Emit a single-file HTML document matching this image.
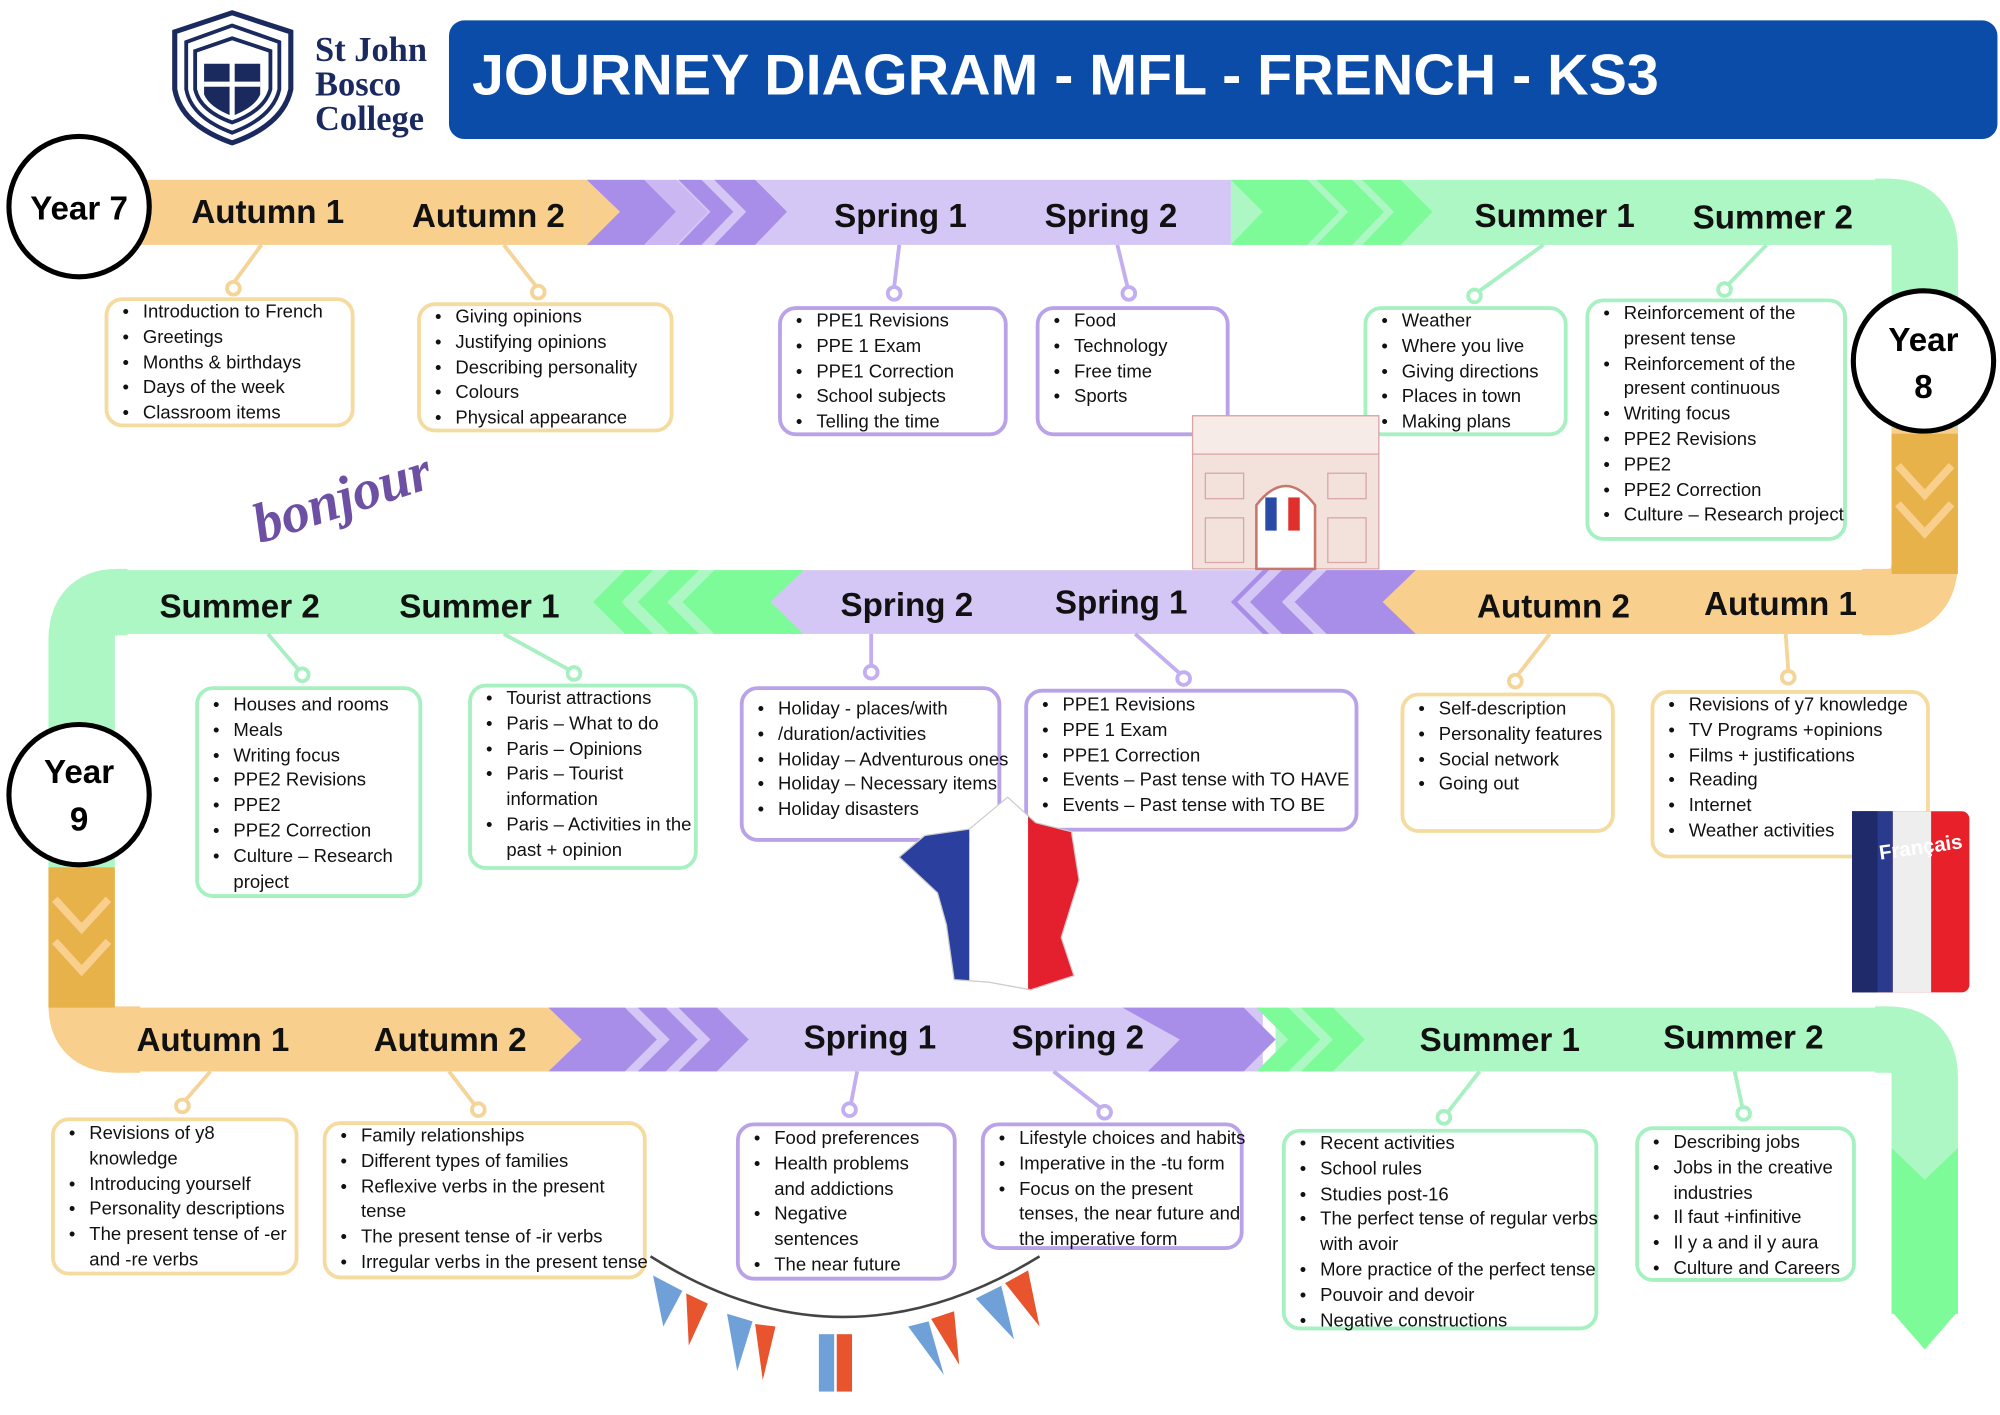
<!DOCTYPE html>
<html><head><meta charset="utf-8">
<style>
html,body{margin:0;padding:0;background:#fff;}
body{width:2000px;height:1414px;overflow:hidden;position:relative;}
#c{position:absolute;left:0;top:0;width:1568px;height:1109px;transform-origin:0 0;transform:scale(1.27551);}
svg{position:absolute;left:0;top:0;}
.bx{position:absolute;border:3px solid;border-radius:14px;box-sizing:border-box;font-family:"Liberation Sans",sans-serif;font-size:14.5px;color:#111;background:#fff;}
.bx p{margin:0;padding-left:27px;position:relative;line-height:19.8px;white-space:nowrap;}
.bx p.b::before{content:"•";position:absolute;left:11px;}
.o{border-color:#f5dba0;}.p{border-color:#b9a2e8;}.g{border-color:#a7f0c1;}
</style></head><body><div id="c">
<svg width="1568" height="1109" viewBox="0 0 1568 1109" font-family="Liberation Sans, sans-serif">
<!-- logo -->
<g fill="none" stroke="#1b2a5e">
<path d="M137,25 Q182,10 182,10 Q182,10 228,25 L228,70 Q222,98 182,112 Q142,98 137,70 Z" stroke-width="4"/>
<path d="M146,33 L182,20 L219,33 L219,70 Q214,92 182,104 Q150,92 146,70 Z" stroke-width="3"/>
<path d="M153,40 L182,30 L212,40 L212,70 Q207,87 182,96 Q157,87 153,70 Z" stroke-width="3"/>
</g>
<path d="M160,50 L204,50 L204,74 Q200,84 182,91 Q164,84 160,74 Z" fill="#1b2a5e"/>
<rect x="180" y="48" width="4" height="44" fill="#fff"/><rect x="160" y="64" width="44" height="4" fill="#fff"/>
<g font-family="Liberation Serif, serif" font-weight="bold" fill="#1b2a5e" font-size="27">
<text x="247" y="48">St John</text><text x="247" y="75">Bosco</text><text x="247" y="102">College</text></g>
<rect x="352" y="16" width="1214" height="93" rx="12" fill="#0b4ca8"/>
<text x="370" y="74" fill="#fff" font-weight="bold" font-size="45">JOURNEY DIAGRAM - MFL - FRENCH - KS3</text>

<!-- row1 band -->
<rect x="60" y="141" width="410" height="51" fill="#f8cf8c"/>
<rect x="460" y="141" width="510" height="51" fill="#d5c7f5"/>
<polygon points="460,141 505,141 530,166 505,192 460,192 486,166" fill="#a98ee9"/>
<polygon points="505,141 530,141 555,166 530,192 505,192 530,166" fill="#cbb8f3"/>
<polygon points="532,141 550,141 575,166 550,192 532,192 557,166" fill="#a98ee9"/>
<polygon points="560,141 592,141 617,166 592,192 560,192 585,166" fill="#a98ee9"/>
<polygon points="460,141 486,166 460,192" fill="#f8cf8c"/>
<rect x="965" y="141" width="520" height="51" fill="#acf7c3"/>
<polygon points="965,141 1025,141 1050,166 1025,192 965,192 990,166" fill="#7dfb98"/>
<polygon points="1032,141 1060,141 1085,166 1060,192 1032,192 1057,166" fill="#7dfb98"/>
<polygon points="1068,141 1098,141 1123,166 1098,192 1068,192 1093,166" fill="#7dfb98"/>
<path d="M1470,166 H1480 Q1509,166 1509,196 V345" stroke="#acf7c3" stroke-width="52" fill="none"/>
<path d="M1509,335 V440 Q1509,472 1478,472 H1460" stroke="#f8cf8c" stroke-width="52" fill="none"/>
<rect x="1483" y="340" width="52" height="110" fill="#e8b24a"/>
<polyline points="1488,365 1509,388 1530,365" stroke="#f8cf8c" stroke-width="6" fill="none"/>
<polyline points="1488,395 1509,418 1530,395" stroke="#f8cf8c" stroke-width="6" fill="none"/>

<!-- row2 band -->
<rect x="1100" y="447" width="380" height="50" fill="#f8cf8c"/>
<rect x="610" y="447" width="500" height="50" fill="#d5c7f5"/>
<polygon points="1110,447 1040,447 1015,472 1040,497 1110,497 1085,472" fill="#a98ee9"/>
<polygon points="1030,447 1005,447 980,472 1005,497 1030,497 1005,472" fill="#a98ee9"/>
<polygon points="995,447 990,447 965,472 990,497 995,497 970,472" fill="#a98ee9"/>
<polygon points="1110,447 1084,472 1110,497" fill="#f8cf8c"/>
<rect x="90" y="447" width="540" height="50" fill="#acf7c3"/>
<polygon points="630,447 560,447 535,472 560,497 630,497 605,472" fill="#7dfb98"/>
<polygon points="548,447 525,447 500,472 525,497 548,497 523,472" fill="#7dfb98"/>
<polygon points="512,447 490,447 465,472 490,497 512,497 487,472" fill="#7dfb98"/>
<polygon points="630,447 604,472 630,497" fill="#d5c7f5"/>
<path d="M100,472 H92 Q64,472 64,502 V690" stroke="#acf7c3" stroke-width="52" fill="none"/>
<path d="M64,680 V788 Q64,815 92,815 H110" stroke="#f8cf8c" stroke-width="52" fill="none"/>
<rect x="38" y="680" width="52" height="110" fill="#e8b24a"/>
<polyline points="43,705 64,728 85,705" stroke="#f8cf8c" stroke-width="6" fill="none"/>
<polyline points="43,738 64,761 85,738" stroke="#f8cf8c" stroke-width="6" fill="none"/>

<!-- row3 band -->
<rect x="90" y="790" width="360" height="50" fill="#f8cf8c"/>
<rect x="430" y="790" width="560" height="50" fill="#d5c7f5"/>
<polygon points="430,790 490,790 515,815 490,840 430,840 455,815" fill="#a98ee9"/>
<polygon points="500,790 522,790 547,815 522,840 500,840 525,815" fill="#a98ee9"/>
<polygon points="532,790 562,790 587,815 562,840 532,840 557,815" fill="#a98ee9"/>
<polygon points="430,790 456,815 430,840" fill="#f8cf8c"/>
<polygon points="880,790 975,790 1000,815 975,840 900,840 925,815" fill="#a98ee9"/>
<rect x="1000" y="790" width="485" height="50" fill="#acf7c3"/>
<polygon points="985,790 1010,790 1035,815 1010,840 985,840 1010,815" fill="#7dfb98"/>
<polygon points="1020,790 1045,790 1070,815 1045,840 1020,840 1045,815" fill="#7dfb98"/>
<polygon points="975,790 1000,815 975,840" fill="#a98ee9"/>
<path d="M1470,815 H1480 Q1509,815 1509,845 V1030" stroke="#acf7c3" stroke-width="52" fill="none"/>
<polygon points="1483,900 1509,925 1535,900 1535,1030 1483,1030" fill="#7dfb98"/>
<polygon points="1483,1028 1535,1028 1509,1058" fill="#7dfb98"/>

<!-- year circles -->
<g stroke="#000" stroke-width="4" fill="#fff">
<circle cx="62" cy="162" r="55"/><circle cx="1508" cy="283" r="55"/><circle cx="62" cy="623" r="55"/></g>
<g font-weight="bold" font-size="26" fill="#000" text-anchor="middle">
<text x="62" y="172">Year 7</text>
<text x="1508" y="275">Year</text><text x="1508" y="312">8</text>
<text x="62" y="614">Year</text><text x="62" y="651">9</text></g>

<!-- band labels -->
<g font-weight="bold" font-size="26" fill="#111">
<text x="150" y="175">Autumn 1</text><text x="323" y="178">Autumn 2</text>
<text x="654" y="178">Spring 1</text><text x="819" y="178">Spring 2</text>
<text x="1156" y="178">Summer 1</text><text x="1327" y="179">Summer 2</text>
<text x="125" y="484">Summer 2</text><text x="313" y="484">Summer 1</text>
<text x="659" y="483">Spring 2</text><text x="827" y="481">Spring 1</text>
<text x="1158" y="484">Autumn 2</text><text x="1336" y="482">Autumn 1</text>
<text x="107" y="824">Autumn 1</text><text x="293" y="824">Autumn 2</text>
<text x="630" y="822">Spring 1</text><text x="793" y="822">Spring 2</text>
<text x="1113" y="824">Summer 1</text><text x="1304" y="822">Summer 2</text></g>

<!-- connectors -->
<g stroke-width="3" fill="#fff">
<g stroke="#f5d49a"><line x1="205" y1="192" x2="183" y2="222"/><circle cx="183" cy="226" r="5"/>
<line x1="395" y1="192" x2="420" y2="224"/><circle cx="422" cy="229" r="5"/>
<line x1="1215" y1="497" x2="1190" y2="529"/><circle cx="1188" cy="534" r="5"/>
<line x1="1400" y1="497" x2="1402" y2="526"/><circle cx="1402" cy="531" r="5"/>
<line x1="165" y1="840" x2="145" y2="863"/><circle cx="143" cy="867" r="5"/>
<line x1="352" y1="840" x2="372" y2="866"/><circle cx="375" cy="870" r="5"/></g>
<g stroke="#c2aef0"><line x1="705" y1="192" x2="701" y2="225"/><circle cx="701" cy="230" r="5"/>
<line x1="876" y1="192" x2="884" y2="225"/><circle cx="885" cy="230" r="5"/>
<line x1="683" y1="497" x2="683" y2="522"/><circle cx="683" cy="527" r="5"/>
<line x1="890" y1="497" x2="925" y2="528"/><circle cx="928" cy="532" r="5"/>
<line x1="672" y1="840" x2="667" y2="866"/><circle cx="666" cy="870" r="5"/>
<line x1="826" y1="840" x2="862" y2="868"/><circle cx="866" cy="872" r="5"/></g>
<g stroke="#a7f0c1"><line x1="1210" y1="192" x2="1160" y2="228"/><circle cx="1156" cy="232" r="5"/>
<line x1="1385" y1="192" x2="1355" y2="223"/><circle cx="1352" cy="227" r="5"/>
<line x1="210" y1="497" x2="234" y2="525"/><circle cx="237" cy="529" r="5"/>
<line x1="395" y1="497" x2="446" y2="525"/><circle cx="450" cy="528" r="5"/>
<line x1="1160" y1="840" x2="1135" y2="872"/><circle cx="1132" cy="876" r="5"/>
<line x1="1360" y1="840" x2="1366" y2="868"/><circle cx="1367" cy="873" r="5"/></g>
</g>
</svg>

<!-- boxes row1 -->
<div class="bx o" style="left:82px;top:233px;width:196px;height:102px;padding-top:0"><p class="b">Introduction to French</p><p class="b">Greetings</p><p class="b">Months &amp; birthdays</p><p class="b">Days of the week</p><p class="b">Classroom items</p></div>
<div class="bx o" style="left:327px;top:237px;width:201px;height:102px;padding-top:0"><p class="b">Giving opinions</p><p class="b">Justifying opinions</p><p class="b">Describing personality</p><p class="b">Colours</p><p class="b">Physical appearance</p></div>
<div class="bx p" style="left:610px;top:240px;width:180px;height:102px;padding-top:0"><p class="b">PPE1 Revisions</p><p class="b">PPE 1 Exam</p><p class="b">PPE1 Correction</p><p class="b">School subjects</p><p class="b">Telling the time</p></div>
<div class="bx p" style="left:812px;top:240px;width:152px;height:102px;padding-top:0"><p class="b">Food</p><p class="b">Technology</p><p class="b">Free time</p><p class="b">Sports</p></div>
<div class="bx g" style="left:1069px;top:240px;width:160px;height:102px;padding-top:0"><p class="b">Weather</p><p class="b">Where you live</p><p class="b">Giving directions</p><p class="b">Places in town</p><p class="b">Making plans</p></div>
<div class="bx g" style="left:1243px;top:234px;width:205px;height:190px;padding-top:0"><p class="b">Reinforcement of the</p><p>present tense</p><p class="b">Reinforcement of the</p><p>present continuous</p><p class="b">Writing focus</p><p class="b">PPE2 Revisions</p><p class="b">PPE2</p><p class="b">PPE2 Correction</p><p class="b">Culture – Research project</p></div>
<!-- row2 -->
<div class="bx g" style="left:153px;top:538px;width:178px;height:166px;padding-top:3px"><p class="b">Houses and rooms</p><p class="b">Meals</p><p class="b">Writing focus</p><p class="b">PPE2 Revisions</p><p class="b">PPE2</p><p class="b">PPE2 Correction</p><p class="b">Culture – Research</p><p>project</p></div>
<div class="bx g" style="left:367px;top:536px;width:180px;height:146px;padding-top:0"><p class="b">Tourist attractions</p><p class="b">Paris – What to do</p><p class="b">Paris – Opinions</p><p class="b">Paris – Tourist</p><p>information</p><p class="b">Paris – Activities in the</p><p>past + opinion</p></div>
<div class="bx p" style="left:580px;top:538px;width:205px;height:122px;padding-top:6px"><p class="b">Holiday - places/with</p><p class="b">/duration/activities</p><p class="b">Holiday – Adventurous ones</p><p class="b">Holiday – Necessary items</p><p class="b">Holiday disasters</p></div>
<div class="bx p" style="left:803px;top:540px;width:262px;height:112px;padding-top:1px"><p class="b">PPE1 Revisions</p><p class="b">PPE 1 Exam</p><p class="b">PPE1 Correction</p><p class="b">Events – Past tense with TO HAVE</p><p class="b">Events – Past tense with TO BE</p></div>
<div class="bx o" style="left:1098px;top:543px;width:168px;height:110px;padding-top:1px"><p class="b">Self-description</p><p class="b">Personality features</p><p class="b">Social network</p><p class="b">Going out</p></div>
<div class="bx o" style="left:1294px;top:541px;width:219px;height:132px;padding-top:0"><p class="b">Revisions of y7 knowledge</p><p class="b">TV Programs +opinions</p><p class="b">Films + justifications</p><p class="b">Reading</p><p class="b">Internet</p><p class="b">Weather activities</p></div>
<!-- row3 -->
<div class="bx o" style="left:40px;top:876px;width:194px;height:124px;padding-top:1px"><p class="b">Revisions of y8</p><p>knowledge</p><p class="b">Introducing yourself</p><p class="b">Personality descriptions</p><p class="b">The present tense of -er</p><p>and -re verbs</p></div>
<div class="bx o" style="left:253px;top:879px;width:254px;height:124px;padding-top:0"><p class="b">Family relationships</p><p class="b">Different types of families</p><p class="b">Reflexive verbs in the present</p><p>tense</p><p class="b">The present tense of -ir verbs</p><p class="b">Irregular verbs in the present tense</p></div>
<div class="bx p" style="left:577px;top:880px;width:173px;height:124px;padding-top:1px"><p class="b">Food preferences</p><p class="b">Health problems</p><p>and addictions</p><p class="b">Negative</p><p>sentences</p><p class="b">The near future</p></div>
<div class="bx p" style="left:769px;top:880px;width:206px;height:100px;padding-top:1px"><p class="b">Lifestyle choices and habits</p><p class="b">Imperative in the -tu form</p><p class="b">Focus on the present</p><p>tenses, the near future and</p><p>the imperative form</p></div>
<div class="bx g" style="left:1005px;top:885px;width:248px;height:158px;padding-top:0"><p class="b">Recent activities</p><p class="b">School rules</p><p class="b">Studies post-16</p><p class="b">The perfect tense of regular verbs</p><p>with avoir</p><p class="b">More practice of the perfect tense</p><p class="b">Pouvoir and devoir</p><p class="b">Negative constructions</p></div>
<div class="bx g" style="left:1282px;top:883px;width:173px;height:122px;padding-top:1px"><p class="b">Describing jobs</p><p class="b">Jobs in the creative</p><p>industries</p><p class="b">Il faut +infinitive</p><p class="b">Il y a and il y aura</p><p class="b">Culture and Careers</p></div>

<!-- decorations on top -->
<svg width="1568" height="1109" viewBox="0 0 1568 1109" font-family="Liberation Sans, sans-serif">
<text x="195" y="410" font-family="Liberation Serif, serif" font-style="italic" font-weight="bold" font-size="44" fill="#6d4fa3" transform="rotate(-18 250 390)">bonjour</text>
<g transform="translate(935,326)">
<rect x="0" y="0" width="146" height="120" fill="#f3e2dc" stroke="#d9a5a5"/>
<rect x="0" y="0" width="146" height="30" fill="#f6ebe6" stroke="#d9a5a5"/>
<path d="M50,120 V70 Q73,40 96,70 V120 Z" fill="#fff" stroke="#c7766b" stroke-width="2"/>
<rect x="57" y="64" width="9" height="26" fill="#2a4aa8"/><rect x="66" y="64" width="9" height="26" fill="#fff"/><rect x="75" y="64" width="9" height="26" fill="#e0302c"/>
<rect x="10" y="45" width="30" height="20" fill="none" stroke="#d9a5a5"/><rect x="106" y="45" width="30" height="20" fill="none" stroke="#d9a5a5"/>
<rect x="10" y="80" width="30" height="35" fill="none" stroke="#d9a5a5"/><rect x="106" y="80" width="30" height="35" fill="none" stroke="#d9a5a5"/>
</g>
<clipPath id="fr"><path d="M790,625 L812,645 L840,652 L846,690 L832,735 L842,765 L808,776 L775,770 L748,768 L742,725 L735,700 L705,672 L725,655 L760,650 Z"/></clipPath>
<g clip-path="url(#fr)"><rect x="700" y="620" width="60" height="160" fill="#2b3f9e"/><rect x="760" y="620" width="46" height="160" fill="#fff"/><rect x="806" y="620" width="50" height="160" fill="#e4202f"/></g>
<path d="M790,625 L812,645 L840,652 L846,690 L832,735 L842,765 L808,776 L775,770 L748,768 L742,725 L735,700 L705,672 L725,655 L760,650 Z" fill="none" stroke="#ccc" stroke-width="1"/>
<g transform="translate(1452,636)">
<rect x="0" y="0" width="92" height="142" rx="6" fill="#e8202a"/>
<rect x="0" y="0" width="32" height="142" fill="#2a3a8c"/><rect x="32" y="0" width="30" height="142" fill="#eee"/>
<rect x="0" y="0" width="20" height="142" fill="#1e2a6a"/>
<text x="22" y="38" fill="#fff" font-weight="bold" font-size="16" transform="rotate(-8 22 38)">Français</text>
</g>
<path d="M510,985 Q660,1080 815,985" stroke="#444" stroke-width="2" fill="none"/>
<polygon points="512,1000 535,1012 520,1040" fill="#6fa0d8"/><polygon points="538,1014 555,1022 540,1055" fill="#e8542e"/>
<polygon points="570,1030 590,1036 578,1075" fill="#6fa0d8"/><polygon points="592,1038 608,1040 598,1082" fill="#e8542e"/>
<rect x="642" y="1046" width="12" height="45" fill="#6fa0d8"/><rect x="656" y="1046" width="12" height="45" fill="#e8542e"/>
<polygon points="712,1040 728,1036 740,1078" fill="#6fa0d8"/><polygon points="730,1034 748,1028 752,1070" fill="#e8542e"/>
<polygon points="765,1018 785,1008 795,1050" fill="#6fa0d8"/><polygon points="788,1006 806,996 815,1040" fill="#e8542e"/>
</svg>
</div></body></html>
